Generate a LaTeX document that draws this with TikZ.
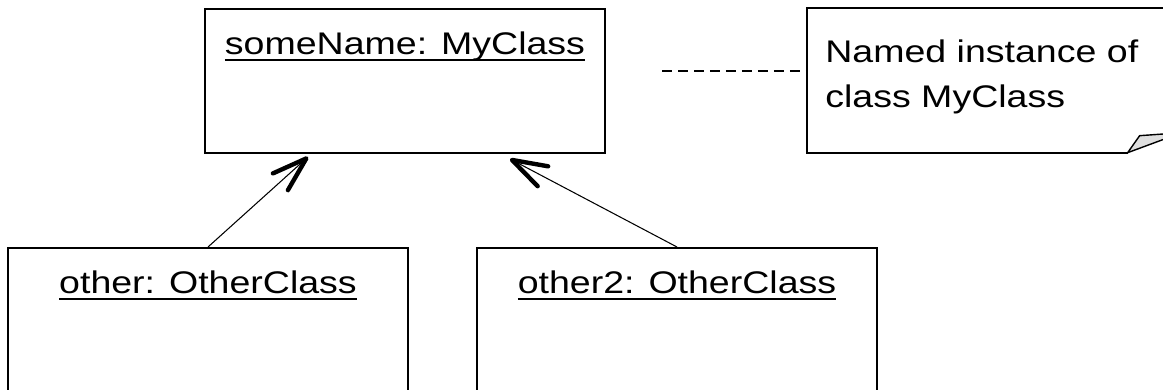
\documentclass[tikz,border=0pt]{standalone}
\usepackage{fontspec}
\setmainfont{Liberation Sans}[FakeStretch=1.2]
\usetikzlibrary{arrows.meta,positioning,calc}

\def \objLabel #1{\setbox0=\hbox{#1}\rlap{\vrule height -0.08cm depth 0.12cm width \wd0}\box0}

\tikzset{
  objbox/.style={draw, line width=1.1pt, rectangle, inner sep=0pt,
    minimum width=8cm, anchor=north, text height=0.92cm,
    font=\fontsize{17.8}{22}\selectfont},
  notetext/.style={anchor=north west, align=left, inner sep=0pt,
    font=\fontsize{17.8}{26.1}\selectfont},
  link/.style={line width=0.6pt,
    -{Straight Barb[length=0.7cm,width=0.45cm,line width=2.5pt,round]}},
}

\begin{document}
\begin{tikzpicture}[x=0.02cm, y=-0.02cm]
  \useasboundingbox (0,0) rectangle (1163,389);
  \clip (0,0) rectangle (1163,389);

  % objects
  \node (someName) [objbox, text depth=1.96cm] at (405,8) {\objLabel{someName: MyClass}};
  \node (other) [objbox, text depth=3cm] at (208,247) {\objLabel{other: OtherClass}};
  \node (other2) [objbox, text depth=3cm] at (677,247) {\objLabel{other2: OtherClass}};

  % note
  \node (note) [anchor=north west, inner sep=0pt, minimum width=7.4cm, minimum height=2.88cm] at (807,8) {};
  \node (noteText) [notetext] at (825,39) {Named instance of\\class MyClass};
  \draw[line width=1.1pt] (note.north east) -- (note.north west) -- (note.south west) -- ([xshift=-1cm]note.south east);
  \filldraw[fill=gray!25, line width=0.8pt, line join=round] ([xshift=-1cm]note.south east) -- ++(12,-17) -- ++(42,-3) -- cycle;

  % links
  \draw[link] (other.north) -- ($(someName.south)+(-97,3)$);
  \draw[link] (other2.north) -- ($(someName.south)+(105,5)$);
  \coordinate (dashStart) at (662,71);
  \draw[line width=1pt, dash pattern=on 0.2cm off 0.12cm] (dashStart) -- (dashStart -| note.west);
\end{tikzpicture}
\end{document}
